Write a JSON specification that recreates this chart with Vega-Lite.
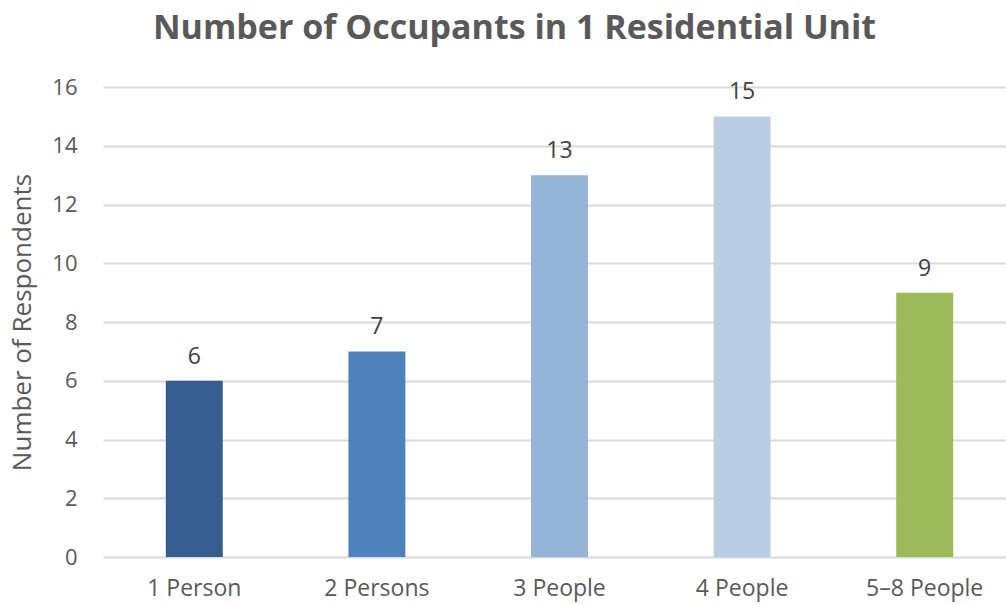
{
  "$schema": "https://vega.github.io/schema/vega-lite/v6.json",
  "autosize": "none",
  "padding": {"left": 103, "top": 87, "right": 0, "bottom": 48},
  "width": 913,
  "height": 470,
  "background": "white",
  "title": {
    "text": "Number of Occupants in 1 Residential Unit",
    "font": "Open Sans",
    "fontSize": 34,
    "fontWeight": "bold",
    "color": "#595959",
    "anchor": "middle",
    "dx": -45,
    "offset": 30
  },
  "data": {
    "values": [
      {"category": "1 Person", "count": 6, "color": "#355E8E"},
      {"category": "2 Persons", "count": 7, "color": "#4F81BD"},
      {"category": "3 People", "count": 13, "color": "#95B3D7"},
      {"category": "4 People", "count": 15, "color": "#B9CDE5"},
      {"category": "5–8 People", "count": 9, "color": "#9BBB59"}
    ]
  },
  "config": {
    "view": {"stroke": null},
    "axis": {"labelFont": "Open Sans", "titleFont": "Open Sans", "labelColor": "#595959", "titleColor": "#595959"}
  },
  "encoding": {
    "x": {
      "field": "category",
      "type": "nominal",
      "sort": null,
      "scale": {"paddingInner": 0.688, "paddingOuter": 0.344},
      "axis": {"title": null, "labelAngle": 0, "labelFontSize": 23, "labelPadding": 20, "domain": false, "ticks": false}
    },
    "y": {
      "field": "count",
      "type": "quantitative",
      "scale": {"domain": [0, 16], "nice": false},
      "axis": {
        "title": "Number of Respondents",
        "values": [0, 2, 4, 6, 8, 10, 12, 14, 16],
        "labelFontSize": 22,
        "labelPadding": 26,
        "titleFontSize": 26,
        "titleFontWeight": "normal",
        "titleX": -81,
        "titleBaseline": "middle",
        "domain": false,
        "ticks": false,
        "gridColor": "#D9D9D9",
        "gridWidth": 2
      }
    }
  },
  "layer": [
    {
      "mark": {"type": "bar"},
      "encoding": {"color": {"field": "color", "type": "nominal", "scale": null, "legend": null}}
    },
    {
      "mark": {"type": "text", "font": "Open Sans", "fontSize": 23, "color": "#404040", "baseline": "bottom", "dy": -12},
      "encoding": {"text": {"field": "count", "type": "quantitative"}}
    }
  ]
}
